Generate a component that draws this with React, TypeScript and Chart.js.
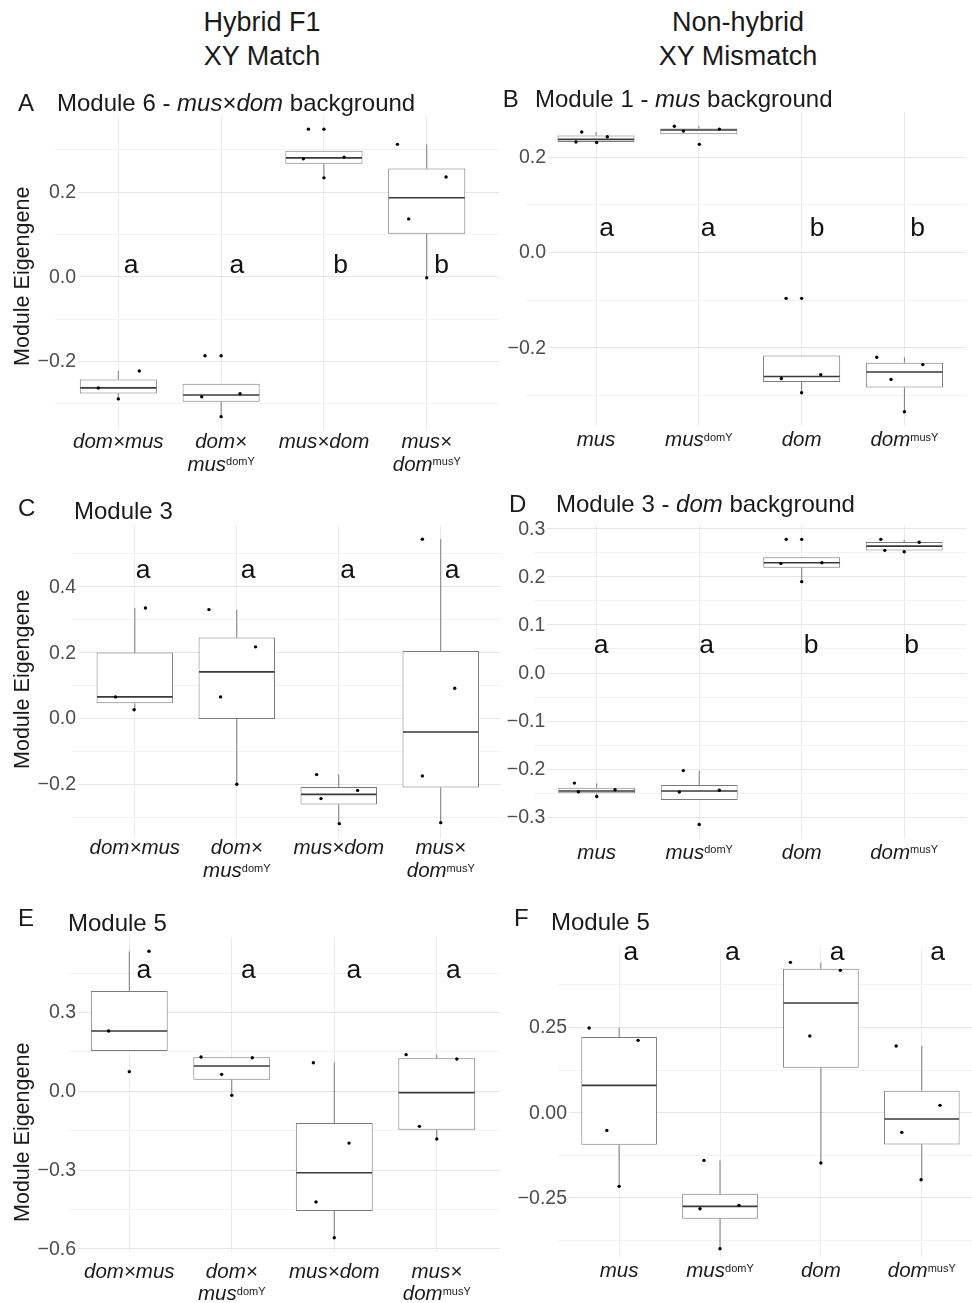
import React, { useEffect, useRef } from 'react';
import Chart from 'chart.js/auto';

const FONT = "'Liberation Sans', Arial, Helvetica, sans-serif";

// ---------- categories (x tick labels); "^{...}" = superscript, "\n" = new line ----------
const hybridCategories = ['dom×mus', 'dom×\nmus^{domY}', 'mus×dom', 'mus×\ndom^{musY}'];
const pureCategories = ['mus', 'mus^{domY}', 'dom', 'dom^{musY}'];

// ---------- Panel A : Module 6 - mus×dom background ----------
// box rows: [lower whisker, Q1, median, Q3, upper whisker]
const A_box = [
  [-0.288, -0.275, -0.262, -0.242, -0.222],
  [-0.33, -0.295, -0.279, -0.252, -0.252],
  [0.234, 0.267, 0.281, 0.298, 0.298],
  [-0.002, 0.102, 0.187, 0.256, 0.313],
];
// points: [x position (jittered group index), value]
const A_points = [
  [-0.195, -0.262], [0.0, -0.288], [0.204, -0.222],
  [0.811, -0.283], [1.184, -0.276], [0.843, -0.186], [1.0, -0.33], [1.0, -0.186],
  [1.8, 0.279], [2.196, 0.283], [2.0, 0.234], [1.849, 0.349], [2.0, 0.349],
  [2.715, 0.313], [3.188, 0.236], [2.825, 0.137], [3.0, -0.002],
];
const A_letters = ['a', 'a', 'b', 'b'];
const A_letterX = [0.124, 1.152, 2.163, 3.146];
const A_letterY = 0.0094;
const A_yMajor = [-0.2, 0, 0.2];
const A_yMinor = [-0.3, -0.1, 0.1, 0.3];
const A_xRange = [-0.616, 3.703];
const A_yRange = [-0.361, 0.38];

// ---------- Panel B : Module 1 - mus background ----------
const B_box = [
  [0.231, 0.2318, 0.2375, 0.2455, 0.253],
  [0.248, 0.248, 0.257, 0.2605, 0.265],
  [-0.294, -0.2715, -0.26, -0.216, -0.216],
  [-0.334, -0.283, -0.2505, -0.231, -0.2196],
];
const B_points = [
  [-0.195, 0.232], [-0.139, 0.253], [0.006, 0.231], [0.11, 0.243],
  [0.762, 0.265], [0.85, 0.255], [1.2, 0.259], [1.005, 0.227],
  [1.803, -0.264], [2.186, -0.256], [2.0, -0.294], [1.849, -0.096], [2.0, -0.096],
  [2.731, -0.2196], [3.179, -0.235], [2.87, -0.266], [3.0, -0.334],
];
const B_letters = ['a', 'a', 'b', 'b'];
const B_letterX = [0.104, 1.091, 2.15, 3.129];
const B_letterY = 0.034;
const B_yMajor = [-0.2, 0, 0.2];
const B_yMinor = [-0.3, -0.1, 0.1];
const B_xRange = [-0.681, 3.599];
const B_yRange = [-0.364, 0.2949];

// ---------- Panel C : Module 3 ----------
const C_box = [
  [0.027, 0.0465, 0.066, 0.2005, 0.336],
  [-0.1995, -0.001, 0.142, 0.246, 0.331],
  [-0.319, -0.261, -0.23, -0.2076, -0.17],
  [-0.316, -0.2096, -0.0405, 0.2056, 0.545],
];
const C_points = [
  [-0.189, 0.066], [0.104, 0.336], [-0.007, 0.027],
  [0.727, 0.331], [1.184, 0.218], [0.841, 0.066], [1.0, -0.1995],
  [1.783, -0.17], [1.826, -0.243], [2.185, -0.218], [2.005, -0.319],
  [2.82, 0.545], [3.137, 0.092], [2.82, -0.174], [3.0, -0.316],
];
const C_letters = ['a', 'a', 'a', 'a'];
const C_letterX = [0.081, 1.11, 2.087, 3.112];
const C_letterY = 0.428;
const C_yMajor = [-0.2, 0, 0.2, 0.4];
const C_yMinor = [-0.3, -0.1, 0.1, 0.3, 0.5];
const C_xRange = [-0.619, 3.591];
const C_yRange = [-0.362, 0.588];

// ---------- Panel D : Module 3 - dom background ----------
const D_box = [
  [-0.257, -0.2503, -0.2455, -0.2386, -0.2295],
  [-0.264, -0.264, -0.2455, -0.233, -0.203],
  [0.19, 0.219, 0.2295, 0.2406, 0.2406],
  [0.2524, 0.255, 0.264, 0.2725, 0.2767],
];
const D_points = [
  [-0.218, -0.229], [-0.179, -0.247], [0.0, -0.257], [0.179, -0.243],
  [0.845, -0.203], [0.806, -0.2476], [1.196, -0.244], [1.0, -0.315],
  [1.797, 0.228], [2.197, 0.2295], [2.0, 0.19], [1.849, 0.278], [2.0, 0.278],
  [2.772, 0.278], [2.811, 0.2552], [3.0, 0.2524], [3.146, 0.272],
];
const D_letters = ['a', 'a', 'b', 'b'];
const D_letterX = [0.042, 1.073, 2.093, 3.073];
const D_letterY = 0.042;
const D_yMajor = [-0.3, -0.2, -0.1, 0, 0.1, 0.2, 0.3];
const D_yMinor = [-0.25, -0.15, -0.05, 0.05, 0.15, 0.25];
const D_xRange = [-0.609, 3.603];
const D_yRange = [-0.3449, 0.3079];

// ---------- Panel E : Module 5 (hybrid) ----------
const E_box = [
  [0.1536, 0.1536, 0.2298, 0.382, 0.533],
  [-0.015, 0.0444, 0.0965, 0.1295, 0.1307],
  [-0.557, -0.4557, -0.3097, -0.1206, 0.109],
  [-0.1815, -0.146, -0.005, 0.1257, 0.1396],
];
const E_points = [
  [0.192, 0.533], [-0.202, 0.2298], [0.0, 0.0749],
  [0.7, 0.1307], [1.2, 0.128], [0.901, 0.0647], [1.0, -0.0152],
  [1.796, 0.109], [2.144, -0.197], [1.822, -0.4214], [2.0, -0.557],
  [2.701, 0.1396], [3.196, 0.123], [2.831, -0.1333], [3.0, -0.1815],
];
const E_letters = ['a', 'a', 'a', 'a'];
const E_letterX = [0.143, 1.161, 2.192, 3.161];
const E_letterY = 0.433;
const E_yMajor = [-0.6, -0.3, 0, 0.3];
const E_yMinor = [-0.45, -0.15, 0.15, 0.45];
const E_xRange = [-0.595, 3.617];
const E_yRange = [-0.6115, 0.5875];

// ---------- Panel F : Module 5 (non-hybrid) ----------
const F_box = [
  [-0.2162, -0.0939, 0.0802, 0.2221, 0.2485],
  [-0.3992, -0.3112, -0.275, -0.2378, -0.14],
  [-0.1478, 0.1321, 0.3219, 0.4227, 0.4403],
  [-0.1967, -0.093, -0.0186, 0.0646, 0.1957],
];
const F_points = [
  [-0.297, 0.2485], [0.188, 0.2123], [-0.122, -0.0519], [0.0, -0.2162],
  [0.841, -0.14], [0.802, -0.2818], [1.188, -0.272], [1.0, -0.3992],
  [1.698, 0.4413], [2.193, 0.4178], [1.89, 0.225], [2.0, -0.1478],
  [2.746, 0.1957], [3.181, 0.0215], [2.802, -0.0577], [2.993, -0.1967],
];
const F_letters = ['a', 'a', 'a', 'a'];
const F_letterX = [0.116, 1.122, 2.16, 3.157];
const F_letterY = 0.447;
const F_yMajor = [-0.25, 0, 0.25];
const F_yMinor = [-0.375, -0.125, 0.125, 0.375];
const F_xRange = [-0.609, 3.597];
const F_yRange = [-0.4247, 0.4834];

// ---------- layout (page pixels) ----------
type Geom = {
  colX: number; canvasW: number;
  plotLeft: number; plotRight: number; plotTop: number; plotBottom: number;
  labelRight: number; xLabelBaselines: number[]; yTitleY?: number;
};

const geomA: Geom = { colX: 0, canvasW: 505, plotLeft: 55, plotRight: 499, plotTop: 116.4, plotBottom: 430.2, labelRight: 76, xLabelBaselines: [448, 471], yTitleY: 276.7 };
const geomB: Geom = { colX: 486, canvasW: 500, plotLeft: 526, plotRight: 966, plotTop: 111.7, plotBottom: 425.8, labelRight: 546, xLabelBaselines: [446, 469] };
const geomC: Geom = { colX: 0, canvasW: 505, plotLeft: 71.7, plotRight: 502, plotTop: 524.7, plotBottom: 837.5, labelRight: 76, xLabelBaselines: [853.3, 876.7], yTitleY: 679 };
const geomD: Geom = { colX: 486, canvasW: 500, plotLeft: 534.3, plotRight: 966, plotTop: 525, plotBottom: 838.8, labelRight: 545.3, xLabelBaselines: [858.5, 881] };
const geomE: Geom = { colX: 0, canvasW: 505, plotLeft: 68.3, plotRight: 500, plotTop: 936.7, plotBottom: 1251.7, labelRight: 76, xLabelBaselines: [1277.5, 1300], yTitleY: 1132 };
const geomF: Geom = { colX: 486, canvasW: 500, plotLeft: 557.7, plotRight: 983, plotTop: 947.6, plotBottom: 1257, labelRight: 567, xLabelBaselines: [1276.7, 1299] };

type PanelSpec = {
  id: string; geom: Geom; categories: string[];
  box: number[][]; points: number[][];
  letters: string[]; letterX: number[]; letterY: number;
  yMajor: number[]; yMinor: number[]; decimals: number;
  xRange: number[]; yRange: number[];
};

const panels: PanelSpec[] = [
  { id: 'A', geom: geomA, categories: hybridCategories, box: A_box, points: A_points, letters: A_letters, letterX: A_letterX, letterY: A_letterY, yMajor: A_yMajor, yMinor: A_yMinor, decimals: 1, xRange: A_xRange, yRange: A_yRange },
  { id: 'B', geom: geomB, categories: pureCategories, box: B_box, points: B_points, letters: B_letters, letterX: B_letterX, letterY: B_letterY, yMajor: B_yMajor, yMinor: B_yMinor, decimals: 1, xRange: B_xRange, yRange: B_yRange },
  { id: 'C', geom: geomC, categories: hybridCategories, box: C_box, points: C_points, letters: C_letters, letterX: C_letterX, letterY: C_letterY, yMajor: C_yMajor, yMinor: C_yMinor, decimals: 1, xRange: C_xRange, yRange: C_yRange },
  { id: 'D', geom: geomD, categories: pureCategories, box: D_box, points: D_points, letters: D_letters, letterX: D_letterX, letterY: D_letterY, yMajor: D_yMajor, yMinor: D_yMinor, decimals: 1, xRange: D_xRange, yRange: D_yRange },
  { id: 'E', geom: geomE, categories: hybridCategories, box: E_box, points: E_points, letters: E_letters, letterX: E_letterX, letterY: E_letterY, yMajor: E_yMajor, yMinor: E_yMinor, decimals: 1, xRange: E_xRange, yRange: E_yRange },
  { id: 'F', geom: geomF, categories: pureCategories, box: F_box, points: F_points, letters: F_letters, letterX: F_letterX, letterY: F_letterY, yMajor: F_yMajor, yMinor: F_yMinor, decimals: 2, xRange: F_xRange, yRange: F_yRange },
];

// ---------- helpers ----------
const CANVAS_TOP_PAD = 20;
const CANVAS_BOTTOM_PAD = 60;
const MAIN_LABEL_FONT = `italic 20.5px ${FONT}`;
const SUP_LABEL_FONT = `11px ${FONT}`;

function fmt(v: number, d: number) {
  const s = Math.abs(v) < 1e-9 ? (0).toFixed(d) : v.toFixed(d);
  return s.replace('-', '\u2212');
}

function parseRuns(line: string) {
  const runs: { t: string; sup: boolean }[] = [];
  const re = /\^\{([^}]*)\}/g;
  let last = 0;
  let m: RegExpExecArray | null;
  while ((m = re.exec(line)) !== null) {
    if (m.index > last) runs.push({ t: line.slice(last, m.index), sup: false });
    runs.push({ t: m[1], sup: true });
    last = m.index + m[0].length;
  }
  if (last < line.length) runs.push({ t: line.slice(last), sup: false });
  return runs;
}

function isIn(list: number[], v: number) {
  return list.some((x) => Math.abs(x - v) < 1e-9);
}

function Panel({ spec }: { spec: PanelSpec }) {
  const ref = useRef<HTMLCanvasElement>(null);
  const g = spec.geom;
  const cLeft = g.colX;
  const cTop = g.plotTop - CANVAS_TOP_PAD;
  const cW = g.canvasW;
  const cH = Math.round(g.plotBottom + CANVAS_BOTTOM_PAD - cTop);

  useEffect(() => {
    const canvas = ref.current;
    if (!canvas) return;
    const toX = (px: number) => px - cLeft;
    const toY = (py: number) => py - cTop;

    const extras = {
      id: 'boxExtras' + spec.id,
      beforeDatasetsDraw(chart: any) {
        const ctx = chart.ctx;
        const ys = chart.scales.y;
        ctx.save();
        ctx.font = `19.5px ${FONT}`;
        ctx.textAlign = 'right';
        ctx.textBaseline = 'middle';
        const xr = toX(g.labelRight);
        for (const v of spec.yMajor) {
          const y = ys.getPixelForValue(v);
          const txt = fmt(v, spec.decimals);
          const w = ctx.measureText(txt).width;
          ctx.fillStyle = '#ffffff';
          ctx.fillRect(xr - w - 1, y - 8, w + 3, 16);
          ctx.fillStyle = '#4d4d4d';
          ctx.fillText(txt, xr, y + 0.5);
        }
        ctx.restore();
      },
      afterDatasetDraw(chart: any, args: any) {
        if (args.index !== 0) return;
        const ctx = chart.ctx;
        const ys = chart.scales.y;
        const meta = args.meta;
        ctx.save();
        spec.box.forEach((b, i) => {
          const el = meta.data[i];
          if (!el) return;
          const x = el.x;
          const w = el.width;
          const [lo, q1, med, q3, hi] = b;
          ctx.strokeStyle = '#7a7a7a';
          ctx.lineWidth = 1;
          ctx.beginPath();
          if (hi > q3) { ctx.moveTo(x, ys.getPixelForValue(q3)); ctx.lineTo(x, ys.getPixelForValue(hi)); }
          if (lo < q1) { ctx.moveTo(x, ys.getPixelForValue(q1)); ctx.lineTo(x, ys.getPixelForValue(lo)); }
          ctx.stroke();
          ctx.strokeStyle = '#3a3a3a';
          ctx.lineWidth = 1.6;
          ctx.beginPath();
          const my = ys.getPixelForValue(med);
          ctx.moveTo(x - w / 2 + 0.5, my);
          ctx.lineTo(x + w / 2 - 0.5, my);
          ctx.stroke();
        });
        ctx.restore();
      },
      afterDatasetsDraw(chart: any) {
        const ctx = chart.ctx;
        const xs = chart.scales.x;
        const ys = chart.scales.y;
        ctx.save();
        ctx.font = `26.5px ${FONT}`;
        ctx.fillStyle = '#111111';
        ctx.textAlign = 'center';
        ctx.textBaseline = 'alphabetic';
        spec.letters.forEach((l, i) => {
          ctx.fillText(l, xs.getPixelForValue(spec.letterX[i]), ys.getPixelForValue(spec.letterY));
        });
        ctx.restore();
      },
      afterDraw(chart: any) {
        const ctx = chart.ctx;
        const xs = chart.scales.x;
        ctx.save();
        ctx.fillStyle = '#1a1a1a';
        ctx.textAlign = 'left';
        ctx.textBaseline = 'alphabetic';
        spec.categories.forEach((label, i) => {
          const cx = xs.getPixelForValue(i);
          label.split('\n').forEach((line, li) => {
            const runs = parseRuns(line);
            const widths = runs.map((r) => {
              ctx.font = r.sup ? SUP_LABEL_FONT : MAIN_LABEL_FONT;
              return ctx.measureText(r.t).width;
            });
            const total = widths.reduce((a, b) => a + b, 0);
            let x = cx - total / 2;
            const base = toY(g.xLabelBaselines[li]);
            runs.forEach((r, k) => {
              ctx.font = r.sup ? SUP_LABEL_FONT : MAIN_LABEL_FONT;
              ctx.fillText(r.t, x, base - (r.sup ? 5.5 : 0));
              x += widths[k];
            });
          });
        });
        if (g.yTitleY !== undefined) {
          ctx.translate(toX(28.5), toY(g.yTitleY));
          ctx.rotate(-Math.PI / 2);
          ctx.font = `21.5px ${FONT}`;
          ctx.textAlign = 'center';
          ctx.fillStyle = '#1a1a1a';
          ctx.fillText('Module Eigengene', 0, 0);
        }
        ctx.restore();
      },
    };

    const zeroFit = (s: any, horizontal: boolean) => {
      if (horizontal) s.height = 0; else s.width = 0;
      s.paddingLeft = 0; s.paddingRight = 0; s.paddingTop = 0; s.paddingBottom = 0;
    };

    const chart = new Chart(canvas, {
      type: 'bar',
      data: {
        datasets: [
          {
            type: 'bar',
            data: spec.box.map((b, i) => ({ x: i, y: [b[1], b[3]] })) as any,
            backgroundColor: '#ffffff',
            borderColor: '#7a7a7a',
            borderWidth: 1,
            borderSkipped: false,
            barPercentage: 0.75,
            categoryPercentage: 1,
            order: 2,
          } as any,
          {
            type: 'scatter',
            data: spec.points.map(([x, y]) => ({ x, y })),
            pointRadius: 1.7,
            pointBackgroundColor: '#000000',
            pointBorderWidth: 0,
            order: 1,
          } as any,
        ],
      },
      options: {
        animation: false,
        responsive: false,
        maintainAspectRatio: false,
        events: [],
        layout: {
          padding: {
            left: g.plotLeft - cLeft,
            right: cW - (g.plotRight - cLeft),
            top: CANVAS_TOP_PAD,
            bottom: cH - (g.plotBottom - cTop),
          },
        },
        plugins: { legend: { display: false }, tooltip: { enabled: false }, title: { display: false } },
        scales: {
          x: {
            type: 'linear',
            min: spec.xRange[0],
            max: spec.xRange[1],
            offset: false,
            bounds: 'data',
            grid: { color: '#ebebeb', lineWidth: 1, drawTicks: false, offset: false },
            border: { display: false },
            ticks: { display: false },
            afterBuildTicks: (s: any) => { s.ticks = spec.categories.map((_, i) => ({ value: i })); },
            afterFit: (s: any) => zeroFit(s, true),
          },
          y: {
            type: 'linear',
            min: spec.yRange[0],
            max: spec.yRange[1],
            bounds: 'data',
            grid: {
              color: (c: any) => (c.tick && isIn(spec.yMajor, c.tick.value) ? '#e6e6e6' : '#f2f2f2'),
              lineWidth: 1,
              drawTicks: false,
            },
            border: { display: false },
            ticks: { display: false },
            afterBuildTicks: (s: any) => {
              s.ticks = [...spec.yMajor, ...spec.yMinor].sort((a, b) => a - b).map((v) => ({ value: v }));
            },
            afterFit: (s: any) => zeroFit(s, false),
          },
        },
      } as any,
      plugins: [extras as any],
    });
    return () => chart.destroy();
  }, []);

  return (
    <canvas
      ref={ref}
      width={cW}
      height={cH}
      style={{ position: 'absolute', left: cLeft, top: cTop, width: cW, height: cH }}
    />
  );
}

function TextAt({ left, baseline, size, children, center }: { left: number; baseline: number; size: number; children: React.ReactNode; center?: boolean }) {
  const style: React.CSSProperties = {
    position: 'absolute',
    top: baseline - 0.8465 * size,
    fontSize: size,
    lineHeight: `${size}px`,
    whiteSpace: 'nowrap',
    fontFamily: FONT,
    color: '#1a1a1a',
  };
  if (center) {
    style.left = left - 200;
    style.width = 400;
    style.textAlign = 'center';
  } else {
    style.left = left;
  }
  return <div style={style}>{children}</div>;
}

export default function App() {
  return (
    <div style={{ position: 'absolute', left: 0, top: 0, width: 972, height: 1303, overflow: 'hidden', background: '#ffffff' }}>
      {panels.map((p) => <Panel key={p.id} spec={p} />)}

      <TextAt left={262} baseline={32} size={27} center>Hybrid F1</TextAt>
      <TextAt left={262} baseline={66} size={27} center>XY Match</TextAt>
      <TextAt left={738} baseline={32} size={27} center>Non-hybrid</TextAt>
      <TextAt left={738} baseline={66} size={27} center>XY Mismatch</TextAt>

      <TextAt left={18} baseline={111.7} size={24}>A</TextAt>
      <TextAt left={57} baseline={111.7} size={24}>Module 6 - <i>mus</i>×<i>dom</i> background</TextAt>

      <TextAt left={502.7} baseline={107.3} size={24}>B</TextAt>
      <TextAt left={535} baseline={107.3} size={24}>Module 1 - <i>mus</i> background</TextAt>

      <TextAt left={18} baseline={516.7} size={24}>C</TextAt>
      <TextAt left={74} baseline={519} size={24}>Module 3</TextAt>

      <TextAt left={509} baseline={512.7} size={24}>D</TextAt>
      <TextAt left={556} baseline={512.7} size={24}>Module 3 - <i>dom</i> background</TextAt>

      <TextAt left={18} baseline={926} size={24}>E</TextAt>
      <TextAt left={68} baseline={931} size={24}>Module 5</TextAt>

      <TextAt left={514} baseline={926} size={24}>F</TextAt>
      <TextAt left={551} baseline={930} size={24}>Module 5</TextAt>
    </div>
  );
}
